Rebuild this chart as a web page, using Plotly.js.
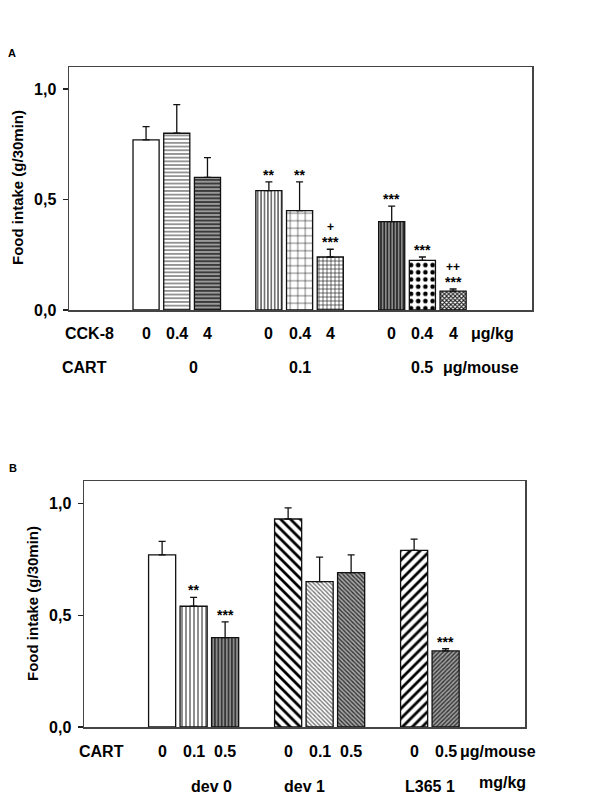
<!DOCTYPE html>
<html><head><meta charset="utf-8">
<script src="https://cdn.plot.ly/plotly-3.0.1.min.js"></script>
<style>html,body{margin:0;padding:0;background:#fff}</style>
</head><body><div id="chart" style="width:600px;height:797px"></div>
<script>
// ---------- Panel A data ----------
const cckDoseA = ['0','0.4','4','0','0.4','4','0','0.4','4'];
const cartDoseA = ['0','0.1','0.5'];
const intakeA = [0.77,0.80,0.60,0.54,0.45,0.24,0.40,0.225,0.085];
const semA = [0.06,0.13,0.09,0.04,0.13,0.035,0.07,0.015,0.01];
const starsA = ['','','','**','**','***','***','***','***'];
const plusA = ['','','','','','+','','','++'];
const groupSizesA = [3,3,3];
// ---------- Panel B data ----------
const cartDoseB = ['0','0.1','0.5','0','0.1','0.5','0','0.5'];
const pretreatB = ['dev 0','dev 1','L365 1'];
const intakeB = [0.77,0.54,0.40,0.93,0.65,0.69,0.79,0.34];
const semB = [0.06,0.04,0.07,0.05,0.11,0.08,0.05,0.01];
const starsB = ['','**','***','','','','','***'];
const groupSizesB = [3,3,2];

// ---------- helpers ----------
function positions(sizes){const o=[];sizes.forEach((n,g)=>{for(let i=0;i<n;i++)o.push(g*4+i+1);});return o;}
const W=600,H=797;
const px=x=>x/W, py=y=>1-y/H;
const FONT='Liberation Sans, Arial, sans-serif';
const bold=(s)=>({family:FONT,size:s,color:'#000',weight:'bold'});

const xA=positions(groupSizesA), xB=positions(groupSizesB);

// styles (patterns)
const styleA={
  shape:['','-','-','|','+','+','|','.','x'],
  bg:['#fff','#fff','#9a9a9a','#fff','#fff','#fff','#8a8a8a','#fff','#fff'],
  fg:['#000','#666','#222','#111','#111','#111','#111','#000','#222'],
  size:[8,3.7,3.7,3.4,7.5,4,3.2,7.2,3],
  sol:[0.3,0.35,0.4,0.3,0.14,0.28,0.4,0.32,0.6]
};
const styleB={
  shape:['','|','|','\\','\\','\\','/','/'],
  bg:['#fff','#fff','#8a8a8a','#fff','#fff','#a8a8a8','#fff','#a0a0a0'],
  fg:['#000','#444','#222','#000','#777','#333','#000','#333'],
  size:[8,4,3.4,7,3,3,7,3],
  sol:[0.3,0.3,0.4,0.4,0.45,0.45,0.4,0.45]
};

function barTrace(x,y,err,st,xa,ya,w){
  return {type:'bar',x:x,y:y,xaxis:xa,yaxis:ya,width:w,
    marker:{color:'#fff',line:{color:'#111',width:1.3},
      pattern:{shape:st.shape,fgcolor:st.fg,bgcolor:st.bg,size:st.size,solidity:st.sol,fillmode:'replace'}},
    error_y:{type:'data',symmetric:false,array:err,arrayminus:err.map(()=>0),color:'#111',thickness:1.3,width:3.5},
    hoverinfo:'skip',showlegend:false};
}

const data=[barTrace(xA,intakeA,semA,styleA,'x','y',0.85),barTrace(xB,intakeB,semB,styleB,'x2','y2',0.86)];

const ann=[];
function A(o){ann.push(Object.assign({showarrow:false,xanchor:'center',yanchor:'middle'},o));}
function sig(xs,vals,errs,labels,xr,yr,shift,size){
  labels.forEach((t,i)=>{ if(!t)return;
    A({xref:xr,yref:yr,x:xs[i],y:vals[i]+errs[i],text:t,yanchor:'bottom',yshift:shift,font:bold(size)});});
}
sig(xA,intakeA,semA,starsA,'x','y',-3,14);
sig(xA,intakeA,semA,plusA,'x','y',13,12);
sig(xB,intakeB,semB,starsB,'x2','y2',-3,14);

// x labels panel A
cckDoseA.forEach((t,i)=>A({xref:'x',yref:'paper',x:xA[i],y:py(334),text:t,font:bold(16)}));
const cartPosA=[2.55,6,10];
cartDoseA.forEach((t,i)=>A({xref:'x',yref:'paper',x:cartPosA[i],y:py(368),text:t,font:bold(16)}));
A({xref:'paper',yref:'paper',x:px(89),y:py(334),text:'CCK-8',font:bold(16)});
A({xref:'paper',yref:'paper',x:px(84),y:py(368),text:'CART',font:bold(16)});
A({xref:'paper',yref:'paper',x:px(469),y:py(334),text:'μg/kg',xanchor:'left',font:bold(16)});
A({xref:'paper',yref:'paper',x:px(441),y:py(368),text:'μg/mouse',xanchor:'left',font:bold(16)});
// x labels panel B
cartDoseB.forEach((t,i)=>A({xref:'x2',yref:'paper',x:xB[i],y:py(751),text:t,font:bold(16)}));
const preXB=[211,304,430];
pretreatB.forEach((t,i)=>A({xref:'paper',yref:'paper',x:px(preXB[i]),y:py(786),text:t,font:bold(16)}));
A({xref:'paper',yref:'paper',x:px(101),y:py(751),text:'CART',font:bold(16)});
A({xref:'paper',yref:'paper',x:px(458),y:py(751),text:'μg/mouse',xanchor:'left',font:bold(16)});
A({xref:'paper',yref:'paper',x:px(502),y:py(782),text:'mg/kg',font:bold(16)});
// panel letters and y titles
A({xref:'paper',yref:'paper',x:px(12),y:py(53),text:'A',font:bold(11)});
A({xref:'paper',yref:'paper',x:px(13),y:py(468),text:'B',font:bold(11)});
A({xref:'paper',yref:'paper',x:px(17),y:py(188),text:'Food intake (g/30min)',textangle:-90,font:bold(15)});
A({xref:'paper',yref:'paper',x:px(32),y:py(604),text:'Food intake (g/30min)',textangle:-90,font:bold(15)});

const xax=(dom,rng)=>({domain:dom,range:rng,showticklabels:false,ticks:'',showline:true,mirror:true,linecolor:'#444',linewidth:1.5,zeroline:false,showgrid:false,fixedrange:true});
const yax=(dom)=>({domain:dom,range:[0,1.1],tickvals:[0,0.5,1],tickformat:'.1f',ticks:'outside',ticklen:5,tickwidth:1.3,tickcolor:'#222',
  showline:true,mirror:true,linecolor:'#444',linewidth:1.5,zeroline:false,showgrid:false,tickfont:bold(16),ticklabelstandoff:3,fixedrange:true});

const layout={width:W,height:H,margin:{l:0,r:0,t:0,b:0},paper_bgcolor:'#fff',plot_bgcolor:'#fff',separators:',.',bargap:0,
  xaxis:Object.assign(xax([px(69),px(532)],[-1.51,13.57]),{anchor:'y'}),
  yaxis:Object.assign(yax([py(310),py(67)]),{anchor:'x'}),
  xaxis2:Object.assign(xax([px(84),px(525)],[-1.48,12.52]),{anchor:'y2'}),
  yaxis2:Object.assign(yax([py(727),py(481)]),{anchor:'x2'}),
  annotations:ann};
Plotly.newPlot('chart',data,layout,{displayModeBar:false,staticPlot:true});
</script></body></html>
